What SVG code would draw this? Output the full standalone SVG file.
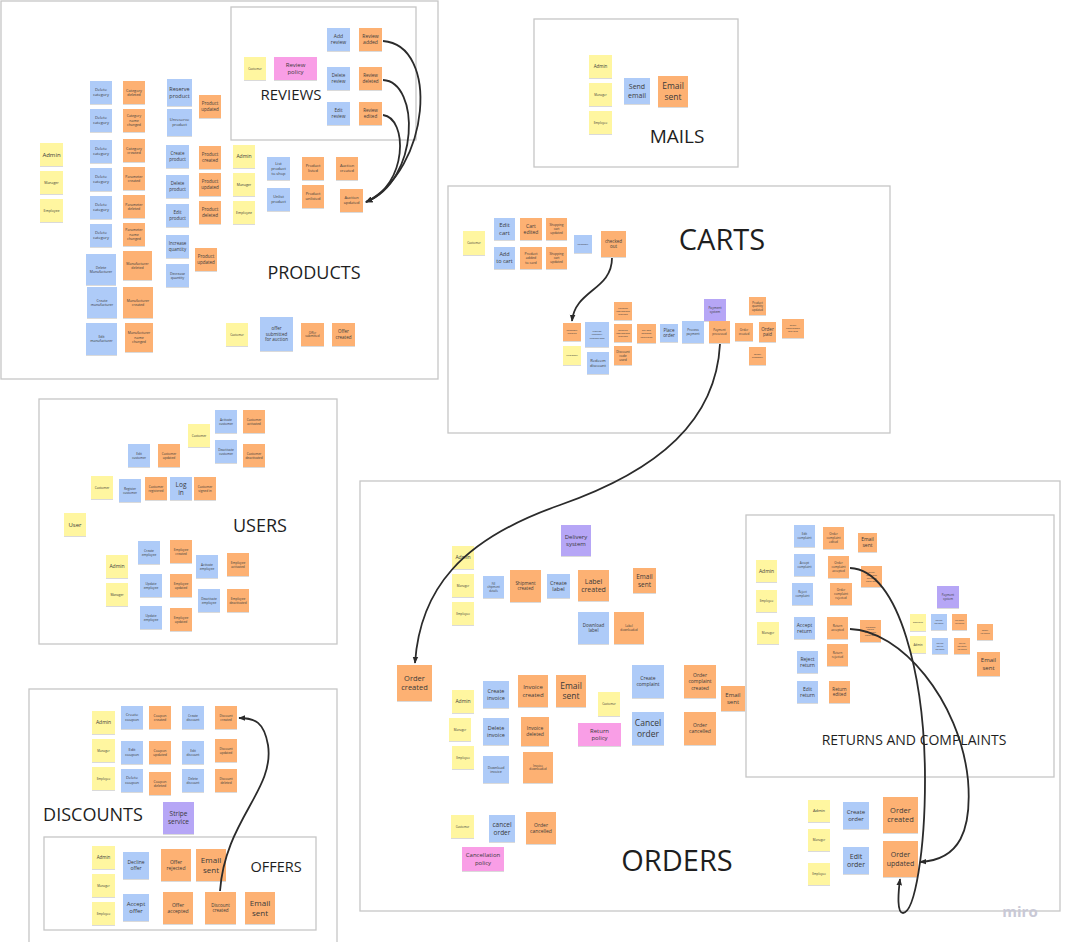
<svg xmlns="http://www.w3.org/2000/svg" width="1091" height="942" viewBox="0 0 1091 942">
<defs>
<filter id="sh" x="-20%" y="-20%" width="140%" height="150%"><feDropShadow dx="0" dy="0.8" stdDeviation="0.6" flood-color="#000" flood-opacity="0.18"/></filter>
<marker id="ah" viewBox="0 0 10 10" refX="9" refY="5" markerWidth="7" markerHeight="7" orient="auto" markerUnits="userSpaceOnUse"><path d="M0,1 L10,5 L0,9 z" fill="#2b2b2b"/></marker>
</defs>
<style>
.frame{fill:#fff;stroke:#c6c6c6;stroke-width:1.3}
.lbl{font-family:"Open Sans","Noto Sans",sans-serif;fill:#1e1e1e;text-anchor:middle}
.n rect{filter:url(#sh)}
.n text{font-family:"Open Sans","Noto Sans",sans-serif;fill:#3a3a3a;text-anchor:middle}
.y{fill:#fff6a0}.b{fill:#aecbf8}.o{fill:#fdb173}.p{fill:#f99ee6}.v{fill:#b6a6f6}
.c path{fill:none;stroke:#2b2b2b;stroke-width:1.8;marker-end:url(#ah)}
</style>
<rect width="1091" height="942" fill="#fff"/>
<g id="frames">
<rect class="frame" x="1" y="1" width="437" height="378"/>
<rect class="frame" x="231" y="7" width="185" height="133"/>
<rect class="frame" x="534" y="19" width="204" height="148"/>
<rect class="frame" x="448" y="186" width="442" height="247"/>
<rect class="frame" x="39" y="399" width="298" height="245"/>
<rect class="frame" x="29" y="689" width="308" height="260"/>
<rect class="frame" x="44" y="837" width="272" height="93"/>
<rect class="frame" x="360" y="481" width="700" height="430"/>
<rect class="frame" x="746" y="515" width="308" height="262"/>
</g>
<g id="labels">
<text class="lbl" x="291" y="100" font-size="15">REVIEWS</text>
<text class="lbl" x="314" y="279" font-size="18">PRODUCTS</text>
<text class="lbl" x="677" y="143" font-size="19">MAILS</text>
<text class="lbl" x="722" y="250" font-size="29">CARTS</text>
<text class="lbl" x="260" y="532" font-size="18">USERS</text>
<text class="lbl" x="93" y="821" font-size="18">DISCOUNTS</text>
<text class="lbl" x="276" y="872" font-size="14.5">OFFERS</text>
<text class="lbl" x="677" y="871" font-size="29">ORDERS</text>
<text class="lbl" x="914" y="745" font-size="14">RETURNS AND COMPLAINTS</text>
<text x="1020" y="917" font-size="15" font-family="Open Sans, Noto Sans, sans-serif" font-weight="bold" fill="#c9c9d6" text-anchor="middle">miro</text>
</g>
<g id="products" class="n">
<g id="p-admin"><rect class="y" x="40" y="143" width="23" height="23"/><text x="51.5" y="156.6" font-size="6">Admin</text></g>
<g id="p-manager"><rect class="y" x="40" y="171" width="23" height="23"/><text x="51.5" y="183.7" font-size="3.5">Manager</text></g>
<g id="p-employee"><rect class="y" x="40" y="199" width="23" height="23"/><text x="51.5" y="211.7" font-size="3.5">Employee</text></g>
<g id="p-delcat1"><rect class="b" x="90" y="81" width="22" height="23"/><text x="101" y="91.4" font-size="4"><tspan x="101">Delete</tspan><tspan x="101" dy="1.25em">category</tspan></text></g>
<g id="p-catdel"><rect class="o" x="123" y="81" width="22" height="23"/><text x="134" y="91.5" font-size="3.8"><tspan x="134">Category</tspan><tspan x="134" dy="1.25em">deleted</tspan></text></g>
<g id="p-delcat2"><rect class="b" x="90" y="109" width="22" height="23"/><text x="101" y="119.4" font-size="4"><tspan x="101">Delete</tspan><tspan x="101" dy="1.25em">category</tspan></text></g>
<g id="p-catname"><rect class="o" x="123" y="109" width="22" height="23"/><text x="134" y="117.4" font-size="3.5"><tspan x="134">Category</tspan><tspan x="134" dy="1.25em">name</tspan><tspan x="134" dy="1.25em">changed</tspan></text></g>
<g id="p-delcat3"><rect class="b" x="90" y="140" width="22" height="23"/><text x="101" y="150.4" font-size="4"><tspan x="101">Delete</tspan><tspan x="101" dy="1.25em">category</tspan></text></g>
<g id="p-catcreated"><rect class="o" x="123" y="139" width="22" height="23"/><text x="134" y="149.5" font-size="3.8"><tspan x="134">Category</tspan><tspan x="134" dy="1.25em">created</tspan></text></g>
<g id="p-delcat4"><rect class="b" x="90" y="168" width="22" height="23"/><text x="101" y="178.4" font-size="4"><tspan x="101">Delete</tspan><tspan x="101" dy="1.25em">category</tspan></text></g>
<g id="p-paramcreated"><rect class="o" x="123" y="167" width="22" height="23"/><text x="134" y="177.5" font-size="3.5"><tspan x="134">Parameter</tspan><tspan x="134" dy="1.25em">created</tspan></text></g>
<g id="p-delcat5"><rect class="b" x="90" y="196" width="22" height="23"/><text x="101" y="206.4" font-size="4"><tspan x="101">Delete</tspan><tspan x="101" dy="1.25em">category</tspan></text></g>
<g id="p-paramdeleted"><rect class="o" x="123" y="195" width="22" height="23"/><text x="134" y="205.5" font-size="3.5"><tspan x="134">Parameter</tspan><tspan x="134" dy="1.25em">deleted</tspan></text></g>
<g id="p-delcat6"><rect class="b" x="90" y="224" width="22" height="23"/><text x="101" y="234.4" font-size="4"><tspan x="101">Delete</tspan><tspan x="101" dy="1.25em">category</tspan></text></g>
<g id="p-paramname"><rect class="o" x="123" y="223" width="22" height="23"/><text x="134" y="231.4" font-size="3.5"><tspan x="134">Parameter</tspan><tspan x="134" dy="1.25em">name</tspan><tspan x="134" dy="1.25em">changed</tspan></text></g>
<g id="p-delman"><rect class="b" x="86" y="254" width="30" height="31"/><text x="101" y="268.5" font-size="3.5"><tspan x="101">Delete</tspan><tspan x="101" dy="1.25em">Manufacturer</tspan></text></g>
<g id="p-mandel"><rect class="o" x="123" y="251" width="29" height="29"/><text x="137.5" y="264.5" font-size="3.5"><tspan x="137.5">Manufacturer</tspan><tspan x="137.5" dy="1.25em">deleted</tspan></text></g>
<g id="p-createman"><rect class="b" x="87" y="287" width="30" height="31"/><text x="102" y="301.5" font-size="3.5"><tspan x="102">Create</tspan><tspan x="102" dy="1.25em">manufacturer</tspan></text></g>
<g id="p-mancreated"><rect class="o" x="123" y="287" width="30" height="31"/><text x="138" y="301.5" font-size="3.5"><tspan x="138">Manufacturer</tspan><tspan x="138" dy="1.25em">created</tspan></text></g>
<g id="p-editman"><rect class="b" x="86" y="323" width="31" height="32"/><text x="101.5" y="338" font-size="3.5"><tspan x="101.5">Edit</tspan><tspan x="101.5" dy="1.25em">manufacturer</tspan></text></g>
<g id="p-manname"><rect class="o" x="125" y="323" width="28" height="29"/><text x="139" y="334.4" font-size="3.5"><tspan x="139">Manufacturer</tspan><tspan x="139" dy="1.25em">name</tspan><tspan x="139" dy="1.25em">changed</tspan></text></g>
<g id="p-reserve"><rect class="b" x="167" y="79" width="25" height="27"/><text x="179.5" y="91" font-size="5.5"><tspan x="179.5">Reserve</tspan><tspan x="179.5" dy="1.25em">product</tspan></text></g>
<g id="p-unreserve"><rect class="b" x="167" y="109" width="25" height="27"/><text x="179.5" y="121.4" font-size="4"><tspan x="179.5">Unreserve</tspan><tspan x="179.5" dy="1.25em">product</tspan></text></g>
<g id="p-produpd1"><rect class="o" x="199" y="95" width="22" height="23"/><text x="210" y="105.3" font-size="4.5"><tspan x="210">Product</tspan><tspan x="210" dy="1.25em">updated</tspan></text></g>
<g id="p-create"><rect class="b" x="166" y="145" width="23" height="23"/><text x="177.5" y="155.3" font-size="4.5"><tspan x="177.5">Create</tspan><tspan x="177.5" dy="1.25em">product</tspan></text></g>
<g id="p-prodcreated"><rect class="o" x="199" y="146" width="22" height="23"/><text x="210" y="156.3" font-size="4.5"><tspan x="210">Product</tspan><tspan x="210" dy="1.25em">created</tspan></text></g>
<g id="p-delete"><rect class="b" x="166" y="175" width="23" height="23"/><text x="177.5" y="185.3" font-size="4.5"><tspan x="177.5">Delete</tspan><tspan x="177.5" dy="1.25em">product</tspan></text></g>
<g id="p-produpd2"><rect class="o" x="199" y="173" width="22" height="23"/><text x="210" y="183.3" font-size="4.5"><tspan x="210">Product</tspan><tspan x="210" dy="1.25em">updated</tspan></text></g>
<g id="p-edit"><rect class="b" x="166" y="204" width="23" height="23"/><text x="177.5" y="214.3" font-size="4.5"><tspan x="177.5">Edit</tspan><tspan x="177.5" dy="1.25em">product</tspan></text></g>
<g id="p-proddeleted"><rect class="o" x="199" y="201" width="22" height="23"/><text x="210" y="211.3" font-size="4.5"><tspan x="210">Product</tspan><tspan x="210" dy="1.25em">deleted</tspan></text></g>
<g id="p-incr"><rect class="b" x="166" y="235" width="23" height="23"/><text x="177.5" y="245.3" font-size="4.5"><tspan x="177.5">Increase</tspan><tspan x="177.5" dy="1.25em">quantity</tspan></text></g>
<g id="p-produpd3"><rect class="o" x="195" y="248" width="22" height="23"/><text x="206" y="258.3" font-size="4.5"><tspan x="206">Product</tspan><tspan x="206" dy="1.25em">updated</tspan></text></g>
<g id="p-decr"><rect class="b" x="166" y="264" width="23" height="23"/><text x="177.5" y="274.5" font-size="3.5"><tspan x="177.5">Decrease</tspan><tspan x="177.5" dy="1.25em">quantity</tspan></text></g>
<g id="p-admin2"><rect class="y" x="233" y="145" width="22" height="23"/><text x="244" y="158.3" font-size="5">Admin</text></g>
<g id="p-manager2"><rect class="y" x="233" y="173" width="22" height="23"/><text x="244" y="185.7" font-size="3.5">Manager</text></g>
<g id="p-employee2"><rect class="y" x="233" y="201" width="22" height="23"/><text x="244" y="213.7" font-size="3.5">Employee</text></g>
<g id="p-list"><rect class="b" x="267" y="157" width="23" height="23"/><text x="278.5" y="164.9" font-size="4"><tspan x="278.5">List</tspan><tspan x="278.5" dy="1.25em">product</tspan><tspan x="278.5" dy="1.25em">to shop</tspan></text></g>
<g id="p-unlist"><rect class="b" x="267" y="188" width="23" height="23"/><text x="278.5" y="198.4" font-size="4"><tspan x="278.5">Unlist</tspan><tspan x="278.5" dy="1.25em">product</tspan></text></g>
<g id="p-listed"><rect class="o" x="302" y="157" width="22" height="23"/><text x="313" y="167.4" font-size="4"><tspan x="313">Product</tspan><tspan x="313" dy="1.25em">listed</tspan></text></g>
<g id="p-unlisted"><rect class="o" x="302" y="185" width="22" height="23"/><text x="313" y="195.4" font-size="4"><tspan x="313">Product</tspan><tspan x="313" dy="1.25em">unlisted</tspan></text></g>
<g id="p-auccreated"><rect class="o" x="336" y="157" width="22" height="23"/><text x="347" y="167.4" font-size="4"><tspan x="347">Auction</tspan><tspan x="347" dy="1.25em">created</tspan></text></g>
<g id="p-aucupd"><rect class="o" x="340" y="189" width="23" height="23"/><text x="351.5" y="199.4" font-size="4"><tspan x="351.5">Auction</tspan><tspan x="351.5" dy="1.25em">updated</tspan></text></g>
<g id="p-cust"><rect class="y" x="226" y="323" width="22" height="23"/><text x="237" y="335.6" font-size="3">Customer</text></g>
<g id="p-offersub"><rect class="b" x="260" y="317" width="33" height="34"/><text x="276.5" y="330" font-size="4.5"><tspan x="276.5">offer</tspan><tspan x="276.5" dy="1.25em">submitted</tspan><tspan x="276.5" dy="1.25em">for auction</tspan></text></g>
<g id="p-offersubmitted"><rect class="o" x="301" y="323" width="23" height="23"/><text x="312.5" y="333.7" font-size="3"><tspan x="312.5">Offer</tspan><tspan x="312.5" dy="1.25em">submitted</tspan></text></g>
<g id="p-offercreated"><rect class="o" x="332" y="323" width="23" height="23"/><text x="343.5" y="333.3" font-size="4.5"><tspan x="343.5">Offer</tspan><tspan x="343.5" dy="1.25em">created</tspan></text></g>
</g>
<g id="reviews" class="n">
<g id="r-cust"><rect class="y" x="244" y="57" width="22" height="23"/><text x="255" y="69.6" font-size="3">Customer</text></g>
<g id="r-policy"><rect class="p" x="274" y="57" width="43" height="23"/><text x="295.5" y="66.9" font-size="6"><tspan x="295.5">Review</tspan><tspan x="295.5" dy="1.25em">policy</tspan></text></g>
<g id="r-add"><rect class="b" x="327" y="28" width="23" height="23"/><text x="338.5" y="38.1" font-size="5"><tspan x="338.5">Add</tspan><tspan x="338.5" dy="1.25em">review</tspan></text></g>
<g id="r-added"><rect class="o" x="359" y="28" width="23" height="23"/><text x="370.5" y="38.1" font-size="5"><tspan x="370.5">Review</tspan><tspan x="370.5" dy="1.25em">added</tspan></text></g>
<g id="r-del"><rect class="b" x="327" y="67" width="23" height="23"/><text x="338.5" y="77.3" font-size="4.5"><tspan x="338.5">Delete</tspan><tspan x="338.5" dy="1.25em">review</tspan></text></g>
<g id="r-deleted"><rect class="o" x="359" y="67" width="23" height="23"/><text x="370.5" y="77.3" font-size="4.5"><tspan x="370.5">Review</tspan><tspan x="370.5" dy="1.25em">deleted</tspan></text></g>
<g id="r-edit"><rect class="b" x="327" y="102" width="23" height="23"/><text x="338.5" y="112.3" font-size="4.5"><tspan x="338.5">Edit</tspan><tspan x="338.5" dy="1.25em">review</tspan></text></g>
<g id="r-edited"><rect class="o" x="359" y="102" width="23" height="23"/><text x="370.5" y="112.3" font-size="4.5"><tspan x="370.5">Review</tspan><tspan x="370.5" dy="1.25em">edited</tspan></text></g>
</g>
<g id="mails" class="n">
<g id="m-admin"><rect class="y" x="589" y="55" width="23" height="23"/><text x="600.5" y="68.1" font-size="4.5">Admin</text></g>
<g id="m-manager"><rect class="y" x="589" y="83" width="23" height="23"/><text x="600.5" y="95.6" font-size="3">Manager</text></g>
<g id="m-employee"><rect class="y" x="589" y="111" width="23" height="23"/><text x="600.5" y="123.6" font-size="3">Employee</text></g>
<g id="m-send"><rect class="b" x="624" y="78" width="26" height="26"/><text x="637" y="89.1" font-size="7"><tspan x="637">Send</tspan><tspan x="637" dy="1.25em">email</tspan></text></g>
<g id="m-sent"><rect class="o" x="658" y="76" width="30" height="31"/><text x="673" y="89.2" font-size="8.5"><tspan x="673">Email</tspan><tspan x="673" dy="1.25em">sent</tspan></text></g>
</g>
<g id="carts" class="n">
<g id="c-cust"><rect class="y" x="463" y="231" width="22" height="24"/><text x="474" y="244.1" font-size="3">Customer</text></g>
<g id="c-edit"><rect class="b" x="494" y="218" width="21" height="22"/><text x="504.5" y="227.4" font-size="6"><tspan x="504.5">Edit</tspan><tspan x="504.5" dy="1.25em">cart</tspan></text></g>
<g id="c-add"><rect class="b" x="494" y="247" width="21" height="22"/><text x="504.5" y="256.4" font-size="5.5"><tspan x="504.5">Add</tspan><tspan x="504.5" dy="1.25em">to cart</tspan></text></g>
<g id="c-edited"><rect class="o" x="520" y="218" width="22" height="22"/><text x="531" y="227.6" font-size="5"><tspan x="531">Cart</tspan><tspan x="531" dy="1.25em">edited</tspan></text></g>
<g id="c-added"><rect class="o" x="520" y="247" width="22" height="22"/><text x="531" y="254.9" font-size="3.5"><tspan x="531">Product</tspan><tspan x="531" dy="1.25em">added</tspan><tspan x="531" dy="1.25em">to card</tspan></text></g>
<g id="c-shop1"><rect class="o" x="546" y="218" width="21" height="22"/><text x="556.5" y="226.1" font-size="3.2"><tspan x="556.5">Shopping</tspan><tspan x="556.5" dy="1.25em">cart</tspan><tspan x="556.5" dy="1.25em">updated</tspan></text></g>
<g id="c-shop2"><rect class="o" x="546" y="247" width="21" height="22"/><text x="556.5" y="255.1" font-size="3.2"><tspan x="556.5">Shopping</tspan><tspan x="556.5" dy="1.25em">cart</tspan><tspan x="556.5" dy="1.25em">updated</tspan></text></g>
<g id="c-checkout"><rect class="b" x="574" y="235" width="18" height="18"/><text transform="translate(583 244.9) scale(0.5)" font-size="5">Checkout</text></g>
<g id="c-checkedout"><rect class="o" x="601" y="231" width="25" height="26"/><text x="613.5" y="242.8" font-size="4.5"><tspan x="613.5">checked</tspan><tspan x="613.5" dy="1.25em">out</tspan></text></g>
<g id="c-chkcreated"><rect class="o" x="563" y="323" width="18" height="18"/><text transform="translate(572 331.3) scale(0.5)" font-size="5"><tspan x="0">Checkout</tspan><tspan x="0" dy="1.25em">created</tspan></text></g>
<g id="c-cust2"><rect class="y" x="563" y="346" width="18" height="19"/><text transform="translate(572 356.4) scale(0.5)" font-size="5">Customer</text></g>
<g id="c-provide"><rect class="b" x="585" y="322" width="24" height="25"/><text transform="translate(597 332.3) scale(0.5)" font-size="5"><tspan x="0">Provide</tspan><tspan x="0" dy="1.25em">checkout</tspan><tspan x="0" dy="1.25em">informations</tspan></text></g>
<g id="c-redeem"><rect class="b" x="587" y="352" width="22" height="22"/><text x="598" y="361.9" font-size="4"><tspan x="598">Redeem</tspan><tspan x="598" dy="1.25em">discount</tspan></text></g>
<g id="c-payinfo"><rect class="o" x="614" y="302" width="18" height="18"/><text transform="translate(623 309) scale(0.5)" font-size="4.6"><tspan x="0">Payment</tspan><tspan x="0" dy="1.25em">informations</tspan><tspan x="0" dy="1.25em">provided</tspan></text></g>
<g id="c-shipinfo"><rect class="o" x="614" y="324" width="18" height="18"/><text transform="translate(623 331) scale(0.5)" font-size="4.6"><tspan x="0">Shipping</tspan><tspan x="0" dy="1.25em">informations</tspan><tspan x="0" dy="1.25em">provided</tspan></text></g>
<g id="c-disc"><rect class="o" x="614" y="346" width="18" height="19"/><text x="623" y="352.5" font-size="3.3"><tspan x="623">Discount</tspan><tspan x="623" dy="1.25em">code</tspan><tspan x="623" dy="1.25em">used</tspan></text></g>
<g id="c-setship"><rect class="o" x="637" y="324" width="19" height="19"/><text transform="translate(646.5 331.3) scale(0.5)" font-size="5"><tspan x="0">Set and</tspan><tspan x="0" dy="1.25em">shipping</tspan><tspan x="0" dy="1.25em">calculated</tspan></text></g>
<g id="c-place"><rect class="b" x="660" y="324" width="18" height="18"/><text x="669" y="331.8" font-size="4.5"><tspan x="669">Place</tspan><tspan x="669" dy="1.25em">order</tspan></text></g>
<g id="c-process"><rect class="b" x="682" y="321" width="22" height="22"/><text x="693" y="331.1" font-size="3.2"><tspan x="693">Process</tspan><tspan x="693" dy="1.25em">payment</tspan></text></g>
<g id="c-paysys"><rect class="v" x="704" y="299" width="22" height="22"/><text x="715" y="309.1" font-size="3.2"><tspan x="715">Payment</tspan><tspan x="715" dy="1.25em">system</tspan></text></g>
<g id="c-payproc"><rect class="o" x="709" y="321" width="21" height="22"/><text x="719.5" y="331.2" font-size="3"><tspan x="719.5">Payment</tspan><tspan x="719.5" dy="1.25em">processed</tspan></text></g>
<g id="c-ordcreated"><rect class="o" x="735" y="323" width="18" height="18"/><text x="744" y="331.2" font-size="3"><tspan x="744">Order</tspan><tspan x="744" dy="1.25em">created</tspan></text></g>
<g id="c-paid"><rect class="o" x="759" y="322" width="17" height="20"/><text x="767.5" y="330.8" font-size="4.5"><tspan x="767.5">Order</tspan><tspan x="767.5" dy="1.25em">paid</tspan></text></g>
<g id="c-qty"><rect class="o" x="749" y="297" width="17" height="18"/><text transform="translate(757.5 303.5) scale(0.5)" font-size="5.6"><tspan x="0">Product</tspan><tspan x="0" dy="1.25em">quantity</tspan><tspan x="0" dy="1.25em">updated</tspan></text></g>
<g id="c-summary"><rect class="o" x="749" y="347" width="17" height="18"/><text transform="translate(757.5 355.3) scale(0.5)" font-size="5"><tspan x="0">Order</tspan><tspan x="0" dy="1.25em">summary</tspan></text></g>
<g id="c-confirm"><rect class="o" x="782" y="319" width="22" height="19"/><text transform="translate(793 326.4) scale(0.5)" font-size="4.6"><tspan x="0">Order</tspan><tspan x="0" dy="1.25em">confirmation</tspan><tspan x="0" dy="1.25em">mail sent</tspan></text></g>
</g>
<g id="users" class="n">
<g id="u-activate"><rect class="b" x="215" y="410" width="22" height="23"/><text x="226" y="420.6" font-size="3.2"><tspan x="226">Activate</tspan><tspan x="226" dy="1.25em">customer</tspan></text></g>
<g id="u-activated"><rect class="o" x="243" y="410" width="22" height="23"/><text x="254" y="420.6" font-size="3.2"><tspan x="254">Customer</tspan><tspan x="254" dy="1.25em">activated</tspan></text></g>
<g id="u-cust1"><rect class="y" x="188" y="424" width="22" height="23"/><text x="199" y="436.6" font-size="3.2">Customer</text></g>
<g id="u-deact"><rect class="b" x="215" y="440" width="22" height="23"/><text x="226" y="450.6" font-size="3.2"><tspan x="226">Deactivate</tspan><tspan x="226" dy="1.25em">customer</tspan></text></g>
<g id="u-deactd"><rect class="o" x="243" y="444" width="22" height="23"/><text x="254" y="454.6" font-size="3.2"><tspan x="254">Customer</tspan><tspan x="254" dy="1.25em">deactivated</tspan></text></g>
<g id="u-edit"><rect class="b" x="128" y="444" width="22" height="23"/><text x="139" y="454.6" font-size="3.2"><tspan x="139">Edit</tspan><tspan x="139" dy="1.25em">customer</tspan></text></g>
<g id="u-updated"><rect class="o" x="158" y="444" width="22" height="23"/><text x="169" y="454.6" font-size="3.2"><tspan x="169">Customer</tspan><tspan x="169" dy="1.25em">updated</tspan></text></g>
<g id="u-cust2"><rect class="y" x="91" y="476" width="22" height="23"/><text x="102" y="488.6" font-size="3.2">Customer</text></g>
<g id="u-register"><rect class="b" x="119" y="479" width="22" height="23"/><text x="130" y="489.6" font-size="3.2"><tspan x="130">Register</tspan><tspan x="130" dy="1.25em">customer</tspan></text></g>
<g id="u-registered"><rect class="o" x="145" y="477" width="22" height="23"/><text x="156" y="487.6" font-size="3.2"><tspan x="156">Customer</tspan><tspan x="156" dy="1.25em">registered</tspan></text></g>
<g id="u-login"><rect class="b" x="170" y="477" width="22" height="23"/><text x="181" y="486.7" font-size="6.5"><tspan x="181">Log</tspan><tspan x="181" dy="1.25em">in</tspan></text></g>
<g id="u-signed"><rect class="o" x="194" y="477" width="22" height="23"/><text x="205" y="487.6" font-size="3.2"><tspan x="205">Customer</tspan><tspan x="205" dy="1.25em">signed in</tspan></text></g>
<g id="u-user"><rect class="y" x="64" y="513" width="22" height="23"/><text x="75" y="526.6" font-size="6">User</text></g>
<g id="u-createemp"><rect class="b" x="138" y="541" width="22" height="23"/><text x="149" y="551.6" font-size="3.2"><tspan x="149">Create</tspan><tspan x="149" dy="1.25em">employee</tspan></text></g>
<g id="u-empcreated"><rect class="o" x="170" y="540" width="22" height="23"/><text x="181" y="550.6" font-size="3.2"><tspan x="181">Employee</tspan><tspan x="181" dy="1.25em">created</tspan></text></g>
<g id="u-actemp"><rect class="b" x="196" y="555" width="22" height="23"/><text x="207" y="565.6" font-size="3.2"><tspan x="207">Activate</tspan><tspan x="207" dy="1.25em">employee</tspan></text></g>
<g id="u-empact"><rect class="o" x="227" y="553" width="22" height="23"/><text x="238" y="563.6" font-size="3.2"><tspan x="238">Employee</tspan><tspan x="238" dy="1.25em">activated</tspan></text></g>
<g id="u-admin"><rect class="y" x="106" y="555" width="22" height="23"/><text x="117" y="568.3" font-size="5">Admin</text></g>
<g id="u-manager"><rect class="y" x="106" y="583" width="22" height="23"/><text x="117" y="595.6" font-size="3.2">Manager</text></g>
<g id="u-updemp1"><rect class="b" x="140" y="574" width="22" height="23"/><text x="151" y="584.6" font-size="3.2"><tspan x="151">Update</tspan><tspan x="151" dy="1.25em">employee</tspan></text></g>
<g id="u-empupd1"><rect class="o" x="170" y="574" width="22" height="23"/><text x="181" y="584.6" font-size="3.2"><tspan x="181">Employee</tspan><tspan x="181" dy="1.25em">updated</tspan></text></g>
<g id="u-deactemp"><rect class="b" x="198" y="589" width="22" height="23"/><text x="209" y="599.6" font-size="3.2"><tspan x="209">Deactivate</tspan><tspan x="209" dy="1.25em">employee</tspan></text></g>
<g id="u-empdeact"><rect class="o" x="227" y="589" width="22" height="23"/><text x="238" y="599.6" font-size="3.2"><tspan x="238">Employee</tspan><tspan x="238" dy="1.25em">deactivated</tspan></text></g>
<g id="u-updemp2"><rect class="b" x="140" y="606" width="22" height="23"/><text x="151" y="616.6" font-size="3.2"><tspan x="151">Update</tspan><tspan x="151" dy="1.25em">employee</tspan></text></g>
<g id="u-empupd2"><rect class="o" x="170" y="608" width="22" height="23"/><text x="181" y="618.6" font-size="3.2"><tspan x="181">Employee</tspan><tspan x="181" dy="1.25em">updated</tspan></text></g>
</g>
<g id="discounts" class="n">
<g id="d-admin"><rect class="y" x="92" y="711" width="23" height="23"/><text x="103.5" y="724.3" font-size="5">Admin</text></g>
<g id="d-manager"><rect class="y" x="92" y="739" width="23" height="23"/><text x="103.5" y="751.6" font-size="3">Manager</text></g>
<g id="d-employee"><rect class="y" x="92" y="767" width="23" height="23"/><text x="103.5" y="779.6" font-size="3">Employee</text></g>
<g id="d-createcoupon"><rect class="b" x="121" y="706" width="22" height="23"/><text x="132" y="716.4" font-size="4"><tspan x="132">Create</tspan><tspan x="132" dy="1.25em">coupon</tspan></text></g>
<g id="d-couponcreated"><rect class="o" x="149" y="706" width="22" height="23"/><text x="160" y="716.5" font-size="3.5"><tspan x="160">Coupon</tspan><tspan x="160" dy="1.25em">created</tspan></text></g>
<g id="d-createdisc"><rect class="b" x="182" y="706" width="22" height="23"/><text x="193" y="716.6" font-size="3.2"><tspan x="193">Create</tspan><tspan x="193" dy="1.25em">discount</tspan></text></g>
<g id="d-disccreated"><rect class="o" x="215" y="706" width="22" height="23"/><text x="226" y="716.6" font-size="3.2"><tspan x="226">Discount</tspan><tspan x="226" dy="1.25em">created</tspan></text></g>
<g id="d-editcoupon"><rect class="b" x="121" y="741" width="22" height="23"/><text x="132" y="751.4" font-size="4"><tspan x="132">Edit</tspan><tspan x="132" dy="1.25em">coupon</tspan></text></g>
<g id="d-couponupd"><rect class="o" x="149" y="741" width="22" height="23"/><text x="160" y="751.5" font-size="3.5"><tspan x="160">Coupon</tspan><tspan x="160" dy="1.25em">updated</tspan></text></g>
<g id="d-editdisc"><rect class="b" x="182" y="741" width="22" height="23"/><text x="193" y="751.6" font-size="3.2"><tspan x="193">Edit</tspan><tspan x="193" dy="1.25em">discount</tspan></text></g>
<g id="d-discupd"><rect class="o" x="215" y="739" width="22" height="23"/><text x="226" y="749.6" font-size="3.2"><tspan x="226">Discount</tspan><tspan x="226" dy="1.25em">updated</tspan></text></g>
<g id="d-delcoupon"><rect class="b" x="121" y="769" width="22" height="23"/><text x="132" y="779.4" font-size="4"><tspan x="132">Delete</tspan><tspan x="132" dy="1.25em">coupon</tspan></text></g>
<g id="d-coupondel"><rect class="o" x="149" y="772" width="22" height="23"/><text x="160" y="782.5" font-size="3.5"><tspan x="160">Coupon</tspan><tspan x="160" dy="1.25em">deleted</tspan></text></g>
<g id="d-deldisc"><rect class="b" x="182" y="769" width="22" height="23"/><text x="193" y="779.6" font-size="3.2"><tspan x="193">Delete</tspan><tspan x="193" dy="1.25em">discount</tspan></text></g>
<g id="d-discdel"><rect class="o" x="215" y="769" width="22" height="23"/><text x="226" y="779.6" font-size="3.2"><tspan x="226">Discount</tspan><tspan x="226" dy="1.25em">deleted</tspan></text></g>
<g id="d-stripe"><rect class="v" x="163" y="802" width="31" height="32"/><text x="178.5" y="816.2" font-size="6.5"><tspan x="178.5">Stripe</tspan><tspan x="178.5" dy="1.25em">service</tspan></text></g>
</g>
<g id="offers" class="n">
<g id="of-admin"><rect class="y" x="92" y="846" width="23" height="23"/><text x="103.5" y="859.1" font-size="4.5">Admin</text></g>
<g id="of-manager"><rect class="y" x="92" y="874" width="23" height="23"/><text x="103.5" y="886.6" font-size="3">Manager</text></g>
<g id="of-employee"><rect class="y" x="92" y="902" width="23" height="23"/><text x="103.5" y="914.6" font-size="3">Employee</text></g>
<g id="of-decline"><rect class="b" x="123" y="852" width="26" height="27"/><text x="136" y="864.1" font-size="5"><tspan x="136">Decline</tspan><tspan x="136" dy="1.25em">offer</tspan></text></g>
<g id="of-rejected"><rect class="o" x="161" y="849" width="30" height="32"/><text x="176" y="863.6" font-size="5"><tspan x="176">Offer</tspan><tspan x="176" dy="1.25em">rejected</tspan></text></g>
<g id="of-email1"><rect class="o" x="196" y="849" width="30" height="32"/><text x="211" y="862.8" font-size="8"><tspan x="211">Email</tspan><tspan x="211" dy="1.25em">sent</tspan></text></g>
<g id="of-accept"><rect class="b" x="123" y="894" width="26" height="27"/><text x="136" y="905.9" font-size="6"><tspan x="136">Accept</tspan><tspan x="136" dy="1.25em">offer</tspan></text></g>
<g id="of-accepted"><rect class="o" x="163" y="892" width="30" height="32"/><text x="178" y="906.6" font-size="5"><tspan x="178">Offer</tspan><tspan x="178" dy="1.25em">accepted</tspan></text></g>
<g id="of-disccreated"><rect class="o" x="205" y="892" width="31" height="32"/><text x="220.5" y="906.8" font-size="4.5"><tspan x="220.5">Discount</tspan><tspan x="220.5" dy="1.25em">created</tspan></text></g>
<g id="of-email2"><rect class="o" x="245" y="892" width="30" height="32"/><text x="260" y="905.8" font-size="8"><tspan x="260">Email</tspan><tspan x="260" dy="1.25em">sent</tspan></text></g>
</g>
<g id="orders" class="n">
<g id="o-delivery"><rect class="v" x="561" y="525" width="30" height="31"/><text x="576" y="538.9" font-size="6"><tspan x="576">Delivery</tspan><tspan x="576" dy="1.25em">system</tspan></text></g>
<g id="o-admin1"><rect class="y" x="452" y="546" width="22" height="23"/><text x="463" y="559.3" font-size="5">Admin</text></g>
<g id="o-manager1"><rect class="y" x="452" y="574" width="22" height="23"/><text x="463" y="586.6" font-size="3">Manager</text></g>
<g id="o-employee1"><rect class="y" x="452" y="602" width="22" height="23"/><text x="463" y="614.6" font-size="3">Employee</text></g>
<g id="o-fill"><rect class="b" x="483" y="576" width="21" height="22"/><text transform="translate(493.5 584.5) scale(0.5)" font-size="5.6"><tspan x="0">Fill</tspan><tspan x="0" dy="1.25em">shipment</tspan><tspan x="0" dy="1.25em">details</tspan></text></g>
<g id="o-shipcreated"><rect class="o" x="510" y="570" width="31" height="32"/><text x="525.5" y="584.8" font-size="4.5"><tspan x="525.5">Shipment</tspan><tspan x="525.5" dy="1.25em">created</tspan></text></g>
<g id="o-createlabel"><rect class="b" x="547" y="574" width="23" height="24"/><text x="558.5" y="584.5" font-size="5.5"><tspan x="558.5">Create</tspan><tspan x="558.5" dy="1.25em">label</tspan></text></g>
<g id="o-labelcreated"><rect class="o" x="578" y="570" width="31" height="31"/><text x="593.5" y="583.6" font-size="7"><tspan x="593.5">Label</tspan><tspan x="593.5" dy="1.25em">created</tspan></text></g>
<g id="o-email1"><rect class="o" x="633" y="568" width="23" height="25"/><text x="644.5" y="578.7" font-size="6.5"><tspan x="644.5">Email</tspan><tspan x="644.5" dy="1.25em">sent</tspan></text></g>
<g id="o-download"><rect class="b" x="578" y="612" width="31" height="32"/><text x="593.5" y="626.8" font-size="4.5"><tspan x="593.5">Download</tspan><tspan x="593.5" dy="1.25em">label</tspan></text></g>
<g id="o-labeldl"><rect class="o" x="614" y="612" width="30" height="32"/><text x="629" y="627.2" font-size="3"><tspan x="629">Label</tspan><tspan x="629" dy="1.25em">downloaded</tspan></text></g>
<g id="o-ordercreated"><rect class="o" x="397" y="665" width="35" height="36"/><text x="414.5" y="680.9" font-size="7.5"><tspan x="414.5">Order</tspan><tspan x="414.5" dy="1.25em">created</tspan></text></g>
<g id="o-admin2"><rect class="y" x="452" y="690" width="22" height="23"/><text x="463" y="703.3" font-size="5">Admin</text></g>
<g id="o-manager2"><rect class="y" x="449" y="718" width="22" height="23"/><text x="460" y="730.6" font-size="3">Manager</text></g>
<g id="o-employee2"><rect class="y" x="452" y="746" width="22" height="23"/><text x="463" y="758.6" font-size="3">Employee</text></g>
<g id="o-createinv"><rect class="b" x="483" y="681" width="26" height="27"/><text x="496" y="693" font-size="5.5"><tspan x="496">Create</tspan><tspan x="496" dy="1.25em">invoice</tspan></text></g>
<g id="o-invcreated"><rect class="o" x="518" y="675" width="30" height="32"/><text x="533" y="689.4" font-size="6"><tspan x="533">Invoice</tspan><tspan x="533" dy="1.25em">created</tspan></text></g>
<g id="o-email2"><rect class="o" x="556" y="675" width="30" height="32"/><text x="571" y="688.7" font-size="8.5"><tspan x="571">Email</tspan><tspan x="571" dy="1.25em">sent</tspan></text></g>
<g id="o-cust1"><rect class="y" x="598" y="692" width="22" height="24"/><text x="609" y="705.1" font-size="3">Customer</text></g>
<g id="o-createcompl"><rect class="b" x="632" y="665" width="32" height="33"/><text x="648" y="680.1" font-size="5"><tspan x="648">Create</tspan><tspan x="648" dy="1.25em">complaint</tspan></text></g>
<g id="o-complcreated"><rect class="o" x="684" y="665" width="32" height="33"/><text x="700" y="677" font-size="5"><tspan x="700">Order</tspan><tspan x="700" dy="1.25em">complaint</tspan><tspan x="700" dy="1.25em">created</tspan></text></g>
<g id="o-email3"><rect class="o" x="721" y="686" width="24" height="25"/><text x="733" y="696.9" font-size="6"><tspan x="733">Email</tspan><tspan x="733" dy="1.25em">sent</tspan></text></g>
<g id="o-delinv"><rect class="b" x="483" y="718" width="26" height="27"/><text x="496" y="730" font-size="5.5"><tspan x="496">Delete</tspan><tspan x="496" dy="1.25em">invoice</tspan></text></g>
<g id="o-invdeleted"><rect class="o" x="521" y="717" width="28" height="29"/><text x="535" y="730.1" font-size="5"><tspan x="535">Invoice</tspan><tspan x="535" dy="1.25em">deleted</tspan></text></g>
<g id="o-returnpolicy"><rect class="p" x="578" y="723" width="43" height="23"/><text x="599.5" y="732.9" font-size="6"><tspan x="599.5">Return</tspan><tspan x="599.5" dy="1.25em">policy</tspan></text></g>
<g id="o-cancel"><rect class="b" x="632" y="712" width="32" height="33"/><text x="648" y="726.2" font-size="8.5"><tspan x="648">Cancel</tspan><tspan x="648" dy="1.25em">order</tspan></text></g>
<g id="o-ordcancelled1"><rect class="o" x="684" y="712" width="32" height="33"/><text x="700" y="727.1" font-size="5"><tspan x="700">Order</tspan><tspan x="700" dy="1.25em">cancelled</tspan></text></g>
<g id="o-dlinv"><rect class="b" x="483" y="756" width="26" height="27"/><text x="496" y="768.5" font-size="3.5"><tspan x="496">Download</tspan><tspan x="496" dy="1.25em">invoice</tspan></text></g>
<g id="o-invdl"><rect class="o" x="523" y="752" width="30" height="31"/><text x="538" y="766.7" font-size="3"><tspan x="538">Invoice</tspan><tspan x="538" dy="1.25em">downloaded</tspan></text></g>
<g id="o-cust2"><rect class="y" x="451" y="815" width="23" height="23"/><text x="462.5" y="827.6" font-size="3">Customer</text></g>
<g id="o-cancel2"><rect class="b" x="489" y="815" width="26" height="27"/><text x="502" y="826.7" font-size="6.5"><tspan x="502">cancel</tspan><tspan x="502" dy="1.25em">order</tspan></text></g>
<g id="o-ordcancelled2"><rect class="o" x="526" y="812" width="30" height="32"/><text x="541" y="826.6" font-size="5"><tspan x="541">Order</tspan><tspan x="541" dy="1.25em">cancelled</tspan></text></g>
<g id="o-cancelpolicy"><rect class="p" x="462" y="847" width="42" height="24"/><text x="483" y="857.4" font-size="6"><tspan x="483">Cancellation</tspan><tspan x="483" dy="1.25em">policy</tspan></text></g>
<g id="o-admin3"><rect class="y" x="808" y="800" width="22" height="22"/><text x="819" y="812.4" font-size="4">Admin</text></g>
<g id="o-manager3"><rect class="y" x="808" y="829" width="22" height="22"/><text x="819" y="841.1" font-size="3">Manager</text></g>
<g id="o-employee3"><rect class="y" x="808" y="863" width="22" height="22"/><text x="819" y="875.1" font-size="3">Employee</text></g>
<g id="o-createorder"><rect class="b" x="843" y="802" width="26" height="27"/><text x="856" y="813.9" font-size="6"><tspan x="856">Create</tspan><tspan x="856" dy="1.25em">order</tspan></text></g>
<g id="o-editorder"><rect class="b" x="843" y="847" width="26" height="27"/><text x="856" y="858.6" font-size="7"><tspan x="856">Edit</tspan><tspan x="856" dy="1.25em">order</tspan></text></g>
<g id="o-ordcreated2"><rect class="o" x="883" y="797" width="35" height="36"/><text x="900.5" y="812.9" font-size="7.5"><tspan x="900.5">Order</tspan><tspan x="900.5" dy="1.25em">created</tspan></text></g>
<g id="o-ordupdated"><rect class="o" x="883" y="841" width="35" height="36"/><text x="900.5" y="857.1" font-size="7"><tspan x="900.5">Order</tspan><tspan x="900.5" dy="1.25em">updated</tspan></text></g>
</g>
<g id="returns" class="n">
<g id="rc-editc"><rect class="b" x="794" y="525" width="21" height="22"/><text x="804.5" y="535.2" font-size="3"><tspan x="804.5">Edit</tspan><tspan x="804.5" dy="1.25em">complaint</tspan></text></g>
<g id="rc-compledited"><rect class="o" x="823" y="527" width="21" height="22"/><text x="833.5" y="535.3" font-size="3"><tspan x="833.5">Order</tspan><tspan x="833.5" dy="1.25em">complaint</tspan><tspan x="833.5" dy="1.25em">edited</tspan></text></g>
<g id="rc-email1"><rect class="o" x="858" y="533" width="19" height="19"/><text x="867.5" y="541.1" font-size="5"><tspan x="867.5">Email</tspan><tspan x="867.5" dy="1.25em">sent</tspan></text></g>
<g id="rc-acceptc"><rect class="b" x="794" y="554" width="21" height="22"/><text x="804.5" y="564.2" font-size="3"><tspan x="804.5">Accept</tspan><tspan x="804.5" dy="1.25em">complaint</tspan></text></g>
<g id="rc-complaccepted"><rect class="o" x="828" y="556" width="21" height="22"/><text x="838.5" y="564.3" font-size="3"><tspan x="838.5">Order</tspan><tspan x="838.5" dy="1.25em">complaint</tspan><tspan x="838.5" dy="1.25em">accepted</tspan></text></g>
<g id="rc-acceptmail"><rect class="o" x="861" y="566" width="21" height="21"/><text transform="translate(871.5 573) scale(0.5)" font-size="4.6"><tspan x="0">Order</tspan><tspan x="0" dy="1.25em">complaint</tspan><tspan x="0" dy="1.25em">accepted</tspan><tspan x="0" dy="1.25em">email sent</tspan></text></g>
<g id="rc-admin"><rect class="y" x="756" y="560" width="21" height="22"/><text x="766.5" y="572.8" font-size="5">Admin</text></g>
<g id="rc-employee"><rect class="y" x="756" y="590" width="21" height="22"/><text x="766.5" y="602.1" font-size="3">Employee</text></g>
<g id="rc-manager"><rect class="y" x="757" y="622" width="22" height="22"/><text x="768" y="634.1" font-size="3">Manager</text></g>
<g id="rc-rejectc"><rect class="b" x="792" y="583" width="21" height="22"/><text x="802.5" y="593.2" font-size="3"><tspan x="802.5">Reject</tspan><tspan x="802.5" dy="1.25em">complaint</tspan></text></g>
<g id="rc-complrejected"><rect class="o" x="830" y="583" width="22" height="22"/><text x="841" y="591.3" font-size="3"><tspan x="841">Order</tspan><tspan x="841" dy="1.25em">complaint</tspan><tspan x="841" dy="1.25em">rejected</tspan></text></g>
<g id="rc-acceptr"><rect class="b" x="794" y="617" width="21" height="22"/><text x="804.5" y="626.6" font-size="5"><tspan x="804.5">Accept</tspan><tspan x="804.5" dy="1.25em">return</tspan></text></g>
<g id="rc-retaccepted"><rect class="o" x="827" y="617" width="21" height="22"/><text x="837.5" y="627.2" font-size="3"><tspan x="837.5">Return</tspan><tspan x="837.5" dy="1.25em">accepted</tspan></text></g>
<g id="rc-paymail"><rect class="o" x="860" y="620" width="21" height="22"/><text transform="translate(870.5 627.5) scale(0.5)" font-size="4.6"><tspan x="0">Payment</tspan><tspan x="0" dy="1.25em">return</tspan><tspan x="0" dy="1.25em">processed</tspan><tspan x="0" dy="1.25em">email sent</tspan></text></g>
<g id="rc-rejectr"><rect class="b" x="797" y="651" width="21" height="22"/><text x="807.5" y="660.6" font-size="5"><tspan x="807.5">Reject</tspan><tspan x="807.5" dy="1.25em">return</tspan></text></g>
<g id="rc-retrejected"><rect class="o" x="827" y="644" width="21" height="22"/><text x="837.5" y="654.2" font-size="3"><tspan x="837.5">Return</tspan><tspan x="837.5" dy="1.25em">rejected</tspan></text></g>
<g id="rc-editr"><rect class="b" x="797" y="681" width="21" height="22"/><text x="807.5" y="690.6" font-size="5"><tspan x="807.5">Edit</tspan><tspan x="807.5" dy="1.25em">return</tspan></text></g>
<g id="rc-retedited"><rect class="o" x="829" y="681" width="21" height="22"/><text x="839.5" y="690.8" font-size="4.5"><tspan x="839.5">Return</tspan><tspan x="839.5" dy="1.25em">edited</tspan></text></g>
<g id="rc-paysys"><rect class="v" x="937" y="586" width="22" height="22"/><text x="948" y="596.2" font-size="3"><tspan x="948">Payment</tspan><tspan x="948" dy="1.25em">system</tspan></text></g>
<g id="rc-employee2"><rect class="y" x="910" y="614" width="16" height="17"/><text transform="translate(918 623.3) scale(0.5)" font-size="4.4">Employee</text></g>
<g id="rc-admin2"><rect class="y" x="910" y="636" width="16" height="17"/><text x="918" y="645.6" font-size="3">Admin</text></g>
<g id="rc-retpay"><rect class="b" x="931" y="614" width="16" height="16"/><text transform="translate(939 621.4) scale(0.5)" font-size="4.4"><tspan x="0">Return</tspan><tspan x="0" dy="1.25em">payment</tspan></text></g>
<g id="rc-retpartial"><rect class="b" x="932" y="638" width="16" height="16"/><text transform="translate(940 644) scale(0.5)" font-size="4.4"><tspan x="0">Return</tspan><tspan x="0" dy="1.25em">partial</tspan><tspan x="0" dy="1.25em">payment</tspan></text></g>
<g id="rc-payret"><rect class="o" x="952" y="614" width="15" height="16"/><text transform="translate(959.5 621.4) scale(0.5)" font-size="4.4"><tspan x="0">Payment</tspan><tspan x="0" dy="1.25em">returned</tspan></text></g>
<g id="rc-partret"><rect class="o" x="954" y="638" width="16" height="16"/><text transform="translate(962 644) scale(0.5)" font-size="4.4"><tspan x="0">Partial</tspan><tspan x="0" dy="1.25em">payment</tspan><tspan x="0" dy="1.25em">returned</tspan></text></g>
<g id="rc-ordret"><rect class="o" x="977" y="624" width="16" height="16"/><text transform="translate(985 631.4) scale(0.5)" font-size="4.4"><tspan x="0">Order</tspan><tspan x="0" dy="1.25em">returned</tspan></text></g>
<g id="rc-email2"><rect class="o" x="977" y="652" width="23" height="24"/><text x="988.5" y="662.4" font-size="6"><tspan x="988.5">Email</tspan><tspan x="988.5" dy="1.25em">sent</tspan></text></g>
</g>
<g id="connectors" class="c">
<path d="M383,41 C440,45 430,170 366,202"/>
<path d="M383,80 C420,82 420,180 366,202"/>
<path d="M383,115 C408,118 408,185 366,202"/>
<path d="M612,258 C612,290 575,290 572,321"/>
<path d="M720,344 C716,420 660,470 560,505 S420,590 415,663"/>
<path d="M220,891 C225,820 275,790 268,745 C264,722 255,718 239,718"/>
<path d="M850,568 C900,570 925,680 925,780 C925,850 915,912 903,913 C897,913 898,895 900,879"/>
<path d="M850,629 C900,630 960,700 968,780 C972,830 960,860 920,862"/>
</g>
</svg>
